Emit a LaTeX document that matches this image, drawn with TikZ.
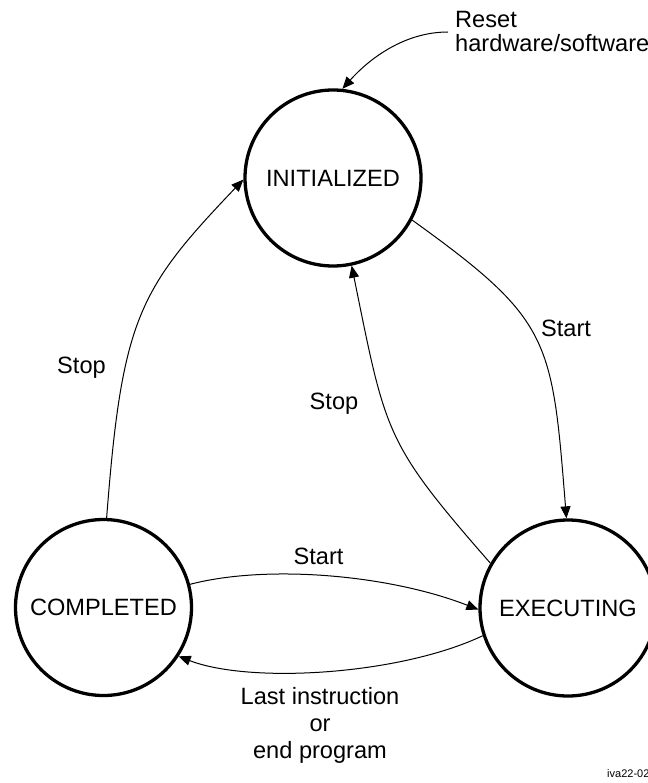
\documentclass[tikz,border=0pt]{standalone}
\usepackage{fontspec}
\setmainfont{Liberation Sans}
\usetikzlibrary{arrows.meta}
\begin{document}
\begin{tikzpicture}[x=1pt,y=-1pt,
  state/.style={circle,draw,line width=3.3pt,minimum size=176pt,inner sep=0pt,font=\fontsize{23.6}{28}\selectfont},
  conn/.style={line width=1pt,-{Triangle[length=12pt,width=10pt]}},
  lbl/.style={font=\fontsize{23.6}{27}\selectfont,inner sep=0pt},
  small/.style={font=\fontsize{11}{13}\selectfont,inner sep=0pt}]
\useasboundingbox (0,0) rectangle (647,783);
% states
\node[state] (init) at (333,178) {INITIALIZED};
\node[state] (comp) at (103.5,607.5) {COMPLETED};
\node[state] (exec) at (568,608) {EXECUTING};
% reset
\coordinate (rs) at (448,32);
\node[lbl,font=\fontsize{23.6}{24.5}\selectfont,align=left,anchor=north west] (reset) at (455,11) {Reset\\hardware/software};
\draw[conn] (rs) .. controls (405,32) and (370,58) .. (init.84);
% transitions
\draw[conn] (init.-28) .. controls (551,320) and (552,338) .. (exec.91);
\draw[conn] (exec.150) .. controls (384.5,442) and (386,434.6) .. (init.-78);
\draw[conn] (comp.88) .. controls (122,318) and (138.5,289.5) .. (init.181);
\draw[conn] (comp.15.5) .. controls (268,564) and (390,575) .. (exec.181);
\draw[conn] (exec.198.6) .. controls (400,675) and (250,684) .. (comp.-33);
% labels
\node[lbl,anchor=base] (lstartr) at (566,336.5) {Start};
\node[lbl,anchor=base] (lstopi) at (334,409) {Stop};
\node[lbl,anchor=base] (lstopo) at (81.5,373) {Stop};
\node[lbl,anchor=base] (lstartb) at (318.5,564) {Start};
\node[lbl,align=center,anchor=north] (llast) at (320,687) {Last instruction\\or\\end program};
\node[small,anchor=base west] (fig) at (607,777) {iva22-02};
\end{tikzpicture}
\end{document}
